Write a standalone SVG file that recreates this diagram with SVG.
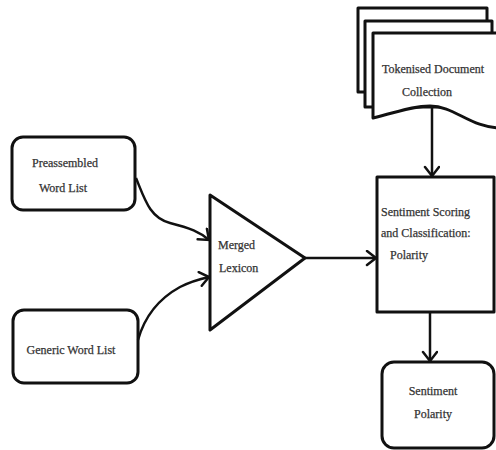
<svg xmlns="http://www.w3.org/2000/svg" width="496" height="450" viewBox="0 0 496 450">
<defs>
<style>
.n{fill:#fff;stroke:#111;stroke-width:3;stroke-linejoin:round}
.c{fill:none;stroke:#111;stroke-width:2.5}
.t{font-family:"Liberation Serif","Times New Roman",serif;font-size:12px;fill:#333;stroke:#333;stroke-width:0.25}
.m{text-anchor:middle}
</style>
<marker id="ah" markerUnits="userSpaceOnUse" markerWidth="20" markerHeight="20" refX="11" refY="8" orient="auto">
<path d="M2,1 L11,8 L2,15" fill="none" stroke="#111" stroke-width="2.5" stroke-linecap="round"/>
</marker>
</defs>
<rect width="496" height="450" fill="#fff"/>
<g id="docs">
<path class="n" d="M358,8 H487 V92 H358 Z"/>
<path class="n" d="M365,21 H492 V107 H365 Z"/>
<path class="n" d="M373,33 H502 V128 C470,128 455,106 430,106 C412,106 398,112 373,118 Z"/>
<text class="t m" x="433" y="73">Tokenised Document</text>
<text class="t m" x="427" y="96">Collection</text>
</g>
<g id="preassembled">
<rect class="n" x="12" y="137" width="123" height="73" rx="11"/>
<text class="t m" x="65" y="167">Preassembled</text>
<text class="t m" x="63" y="192">Word List</text>
</g>
<g id="generic">
<rect class="n" x="13" y="310" width="125" height="73" rx="11"/>
<text class="t m" x="71" y="354">Generic Word List</text>
</g>
<g id="merged">
<path class="n" d="M210,195 L305,258 L210,330 Z"/>
<text class="t" x="218" y="249">Merged</text>
<text class="t" x="219" y="272">Lexicon</text>
</g>
<g id="scoring">
<rect class="n" x="377" y="177" width="117" height="135"/>
<text class="t" x="381" y="216">Sentiment Scoring</text>
<text class="t" x="381" y="237">and Classification:</text>
<text class="t" x="390" y="259">Polarity</text>
</g>
<g id="polarity">
<rect class="n" x="382" y="362" width="112" height="86" rx="12"/>
<text class="t m" x="433" y="395">Sentiment</text>
<text class="t m" x="433" y="418">Polarity</text>
</g>
<g id="connectors">
<path class="c" d="M136,178 C145,200 150,218 170,223 C190,228 200,232 209,240" marker-end="url(#ah)"/>
<path class="c" d="M138,340 C145,315 160,298 180,287 C192,281 200,279 209,277" marker-end="url(#ah)"/>
<path class="c" d="M305,258 H376" marker-end="url(#ah)"/>
<path class="c" d="M432,106 V176" marker-end="url(#ah)"/>
<path class="c" d="M430,312 V361" marker-end="url(#ah)"/>
</g>
</svg>
